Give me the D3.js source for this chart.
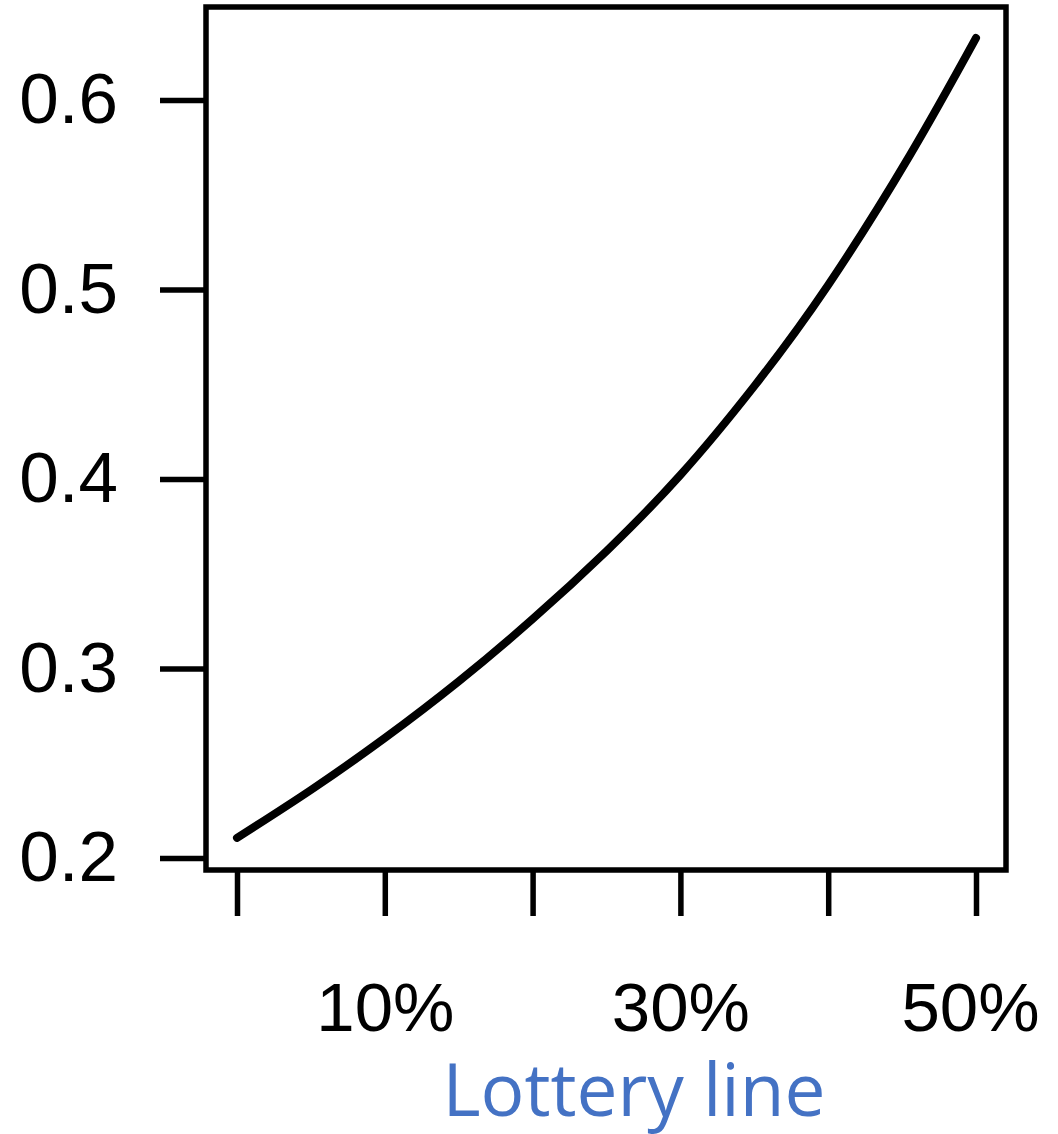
<!DOCTYPE html>
<html>
<head>
<meta charset="utf-8">
<script src="https://cdn.jsdelivr.net/npm/d3@7"></script>
<style>
  body { margin: 0; background: #fff; }
  svg { display: block; }
</style>
</head>
<body>
<div id="chart"></div>
<script>
// values
const shares = [0, 0.05, 0.10, 0.15, 0.20, 0.25, 0.30, 0.35, 0.40, 0.455, 0.50];
const probs = [0.2106, 0.2359, 0.2633, 0.2932, 0.3261, 0.3620, 0.4021, 0.4490, 0.5024, 0.5705, 0.6327];
const xTicks = [0, 0.1, 0.2, 0.3, 0.4, 0.5];
const xLabelled = [0.1, 0.3, 0.5];
const yTicks = [0.2, 0.3, 0.4, 0.5, 0.6];
const xTitle = "Lottery line";

const width = 1058,
  height = 1134;
const box = { left: 206, top: 7, right: 1006, bottom: 870 };

const svg = d3
  .select("#chart")
  .append("svg")
  .attr("width", width)
  .attr("height", height);

const x = d3.scaleLinear().domain([0, 0.5]).range([237, 976]);
const y = d3.scaleLinear().domain([0.2, 0.6]).range([858, 100]);

const numFont = "'Liberation Sans', Arial, sans-serif";

// plot frame
svg
  .append("rect")
  .attr("x", box.left)
  .attr("y", box.top)
  .attr("width", box.right - box.left)
  .attr("height", box.bottom - box.top)
  .attr("fill", "none")
  .attr("stroke", "#000")
  .attr("stroke-width", 5.5);

// y axis, R style: ticks outside the frame
const yAxis = svg
  .append("g")
  .attr("transform", `translate(${box.left},0)`)
  .call(d3.axisLeft(y).tickValues(yTicks).tickSize(46).tickPadding(42).tickFormat(d3.format(".1f")));
yAxis.select(".domain").remove();
yAxis.selectAll(".tick line").attr("stroke", "#000").attr("stroke-width", 5.5);
yAxis
  .selectAll(".tick text")
  .attr("fill", "#000")
  .style("font-family", numFont)
  .style("font-size", "71px");

// x axis
const xAxis = svg
  .append("g")
  .attr("transform", `translate(0,${box.bottom})`)
  .call(
    d3
      .axisBottom(x)
      .tickValues(xTicks)
      .tickSize(46)
      .tickPadding(66)
      .tickFormat((d) => (xLabelled.some((v) => Math.abs(v - d) < 1e-9) ? d3.format(".0%")(d) : ""))
  );
xAxis.select(".domain").remove();
xAxis.selectAll(".tick line").attr("stroke", "#000").attr("stroke-width", 5.5);
xAxis
  .selectAll(".tick text")
  .attr("fill", "#000")
  .style("font-family", numFont)
  .style("font-size", "69px");
xAxis.selectAll(".tick text").attr("dx", (d) => (d === 0.5 ? -6 : 0));

svg
  .append("text")
  .attr("x", 634)
  .attr("y", 1116)
  .attr("text-anchor", "middle")
  .attr("fill", "#4472C4")
  .style("font-family", "'Open Sans', 'Noto Sans', sans-serif")
  .style("font-size", "73px")
  .text(xTitle);

// the curve
const line = d3
  .line()
  .x((d) => x(d[0]))
  .y((d) => y(d[1]))
  .curve(d3.curveNatural);

svg
  .append("path")
  .datum(d3.zip(shares, probs))
  .attr("d", line)
  .attr("fill", "none")
  .attr("stroke", "#000")
  .attr("stroke-width", 8)
  .attr("stroke-linecap", "round");
</script>
</body>
</html>
